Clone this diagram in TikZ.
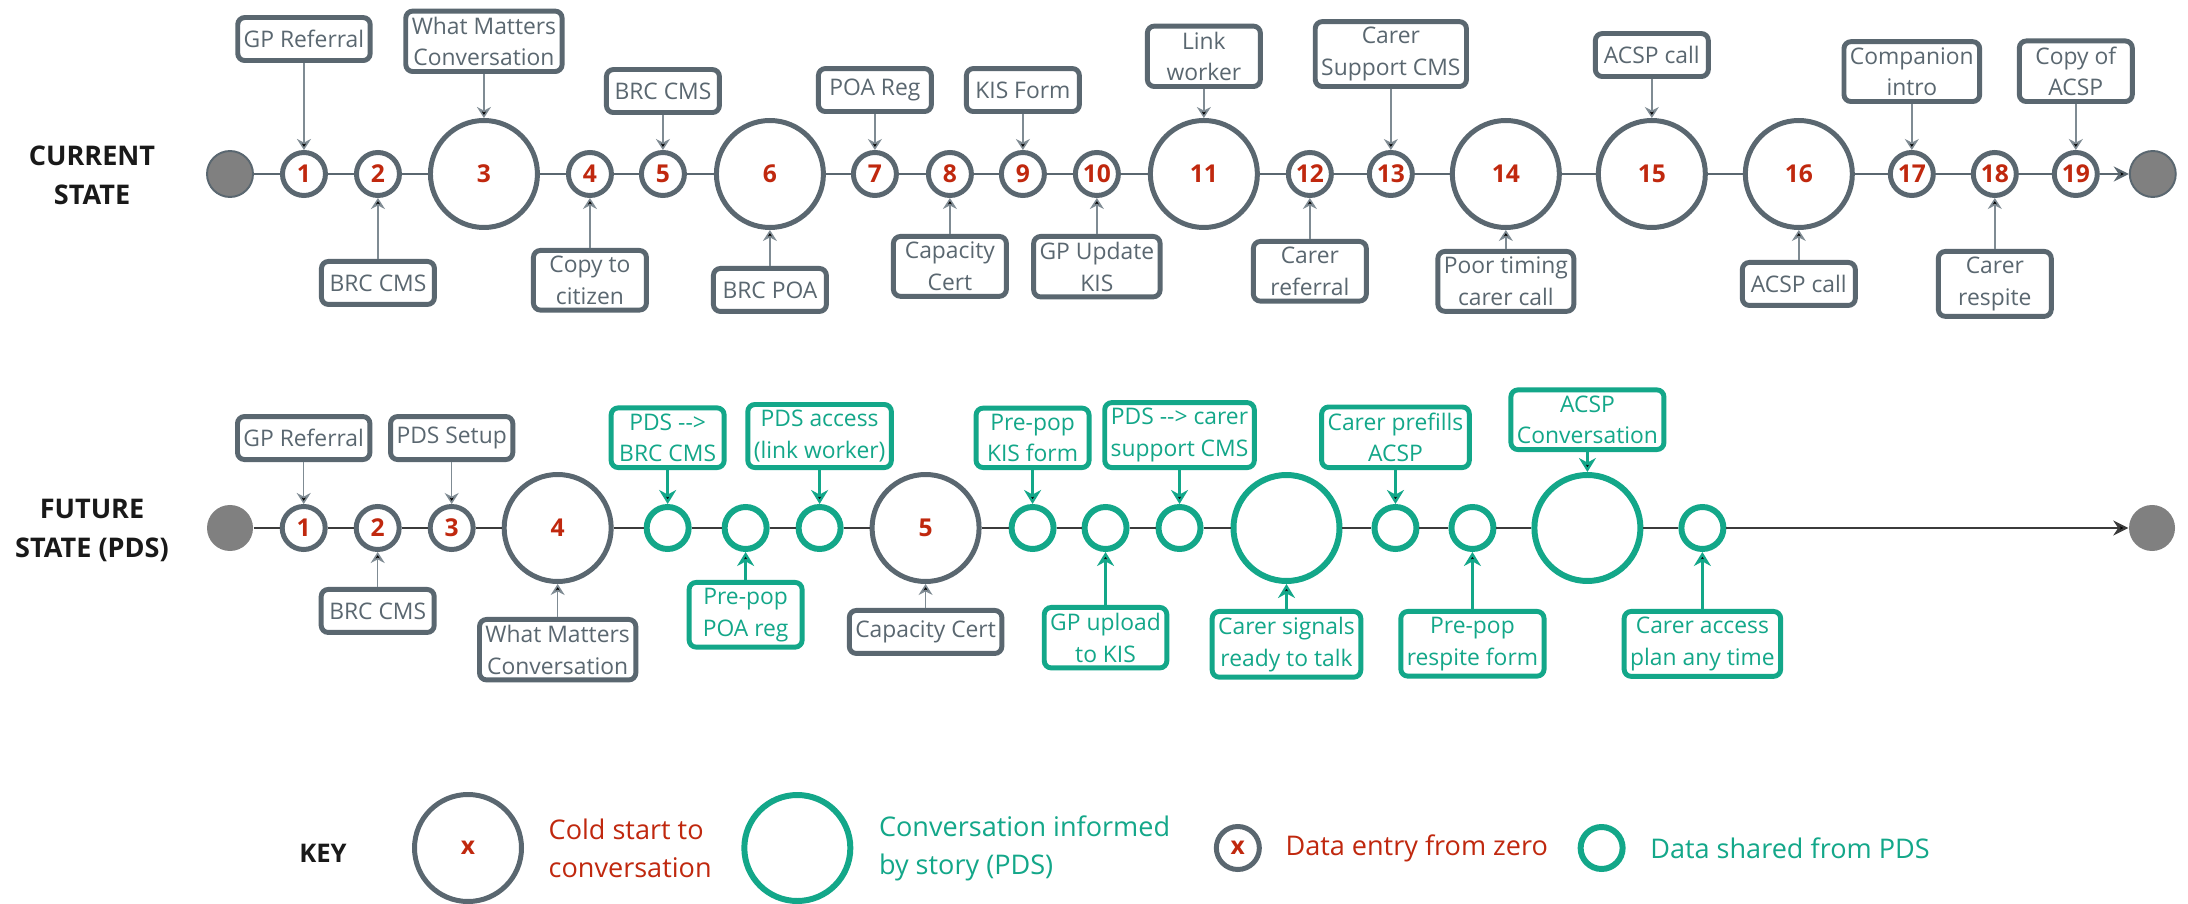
\documentclass[tikz,border=0pt]{standalone}
\usepackage{fontspec}
\setmainfont{Open Sans}
\usetikzlibrary{positioning, arrows.meta}

\definecolor{slategrey}{HTML}{5A6770}
\definecolor{pdsgreen}{HTML}{13A789}
\definecolor{coldred}{HTML}{C0280E}
\definecolor{wiregrey}{HTML}{7F8B93}
\definecolor{dotgrey}{HTML}{808080}
\definecolor{darkline}{HTML}{3B3B3B}

\begin{document}
\begin{tikzpicture}[> = {Stealth[length=1.1mm, width=1.4mm]}, % arrow head style
                node distance = 0.26cm, % gap between circles
                font = \fontsize{6.5}{9}\selectfont % box text
            ]

            \tikzstyle{terminal}=[circle, fill=dotgrey, inner sep=0pt, minimum size=0.46cm]
            \tikzstyle{entry}=[circle, draw=slategrey, line width=1.42pt, inner sep=0pt,
            minimum size=0.43cm, text=coldred, font=\fontsize{7}{8}\selectfont\bfseries]
            \tikzstyle{talk}=[entry, minimum size=1.07cm]
            \tikzstyle{share}=[circle, draw=pdsgreen, line width=1.7pt, inner sep=0pt,
            minimum size=0.42cm]
            \tikzstyle{informed}=[share, minimum size=1.06cm]
            \tikzstyle{note}=[draw=slategrey, text=slategrey, rounded corners=2pt,
            line width=1.4pt, align=center, minimum width=1.13cm, minimum height=0.43cm,
            inner xsep=1.7pt, inner ysep=1.6pt]
            \tikzstyle{pdsnote}=[note, draw=pdsgreen, text=pdsgreen]
            \tikzstyle{feed}=[->, draw=wiregrey, line width=0.45pt]
            \tikzstyle{pdsfeed}=[-{Stealth[length=1.4mm, width=1.7mm]}, draw=pdsgreen,
            line width=0.8pt]
            \tikzstyle{head}=[align=center, text=black!90, font=\fontsize{7.7}{11.1}\selectfont\bfseries]
            \tikzstyle{keytext}=[align=left, inner sep=0pt, font=\fontsize{7.7}{10.8}\selectfont]

            \path[use as bounding box, fill=white] (0,0) rectangle (21.88,-9.04);

            % current state
            \node[head] (hc) at (0.92,-1.75) {CURRENT\\STATE};
            \node[terminal, draw=slategrey, line width=0.55pt] (cs) at (2.30,-1.74) {};
            \node[entry] (c1) [right=of cs] {1}; \node[entry] (c2) [right=of c1] {2};
            \node[talk] (c3) [right=of c2] {3}; \node[entry] (c4) [right=of c3] {4};
            \node[entry] (c5) [right=0.25cm of c4] {5}; \node[talk] (c6) [right=0.27cm of c5] {6};
            \node[entry] (c7) [right=0.25cm of c6] {7}; \node[entry] (c8) [right=0.27cm of c7] {8};
            \node[entry] (c9) [right=0.25cm of c8] {9}; \node[entry] (c10) [right=of c9] {10};
            \node[talk] (c11) [right=0.27cm of c10] {11}; \node[entry] (c12) [right=of c11] {12};
            \node[entry] (c13) [right=0.33cm of c12] {13}; \node[talk] (c14) [right=0.35cm of c13] {14};
            \node[talk] (c15) [right=0.34cm of c14] {15}; \node[talk] (c16) [right=0.35cm of c15] {16};
            \node[entry] (c17) [right=0.33cm of c16] {17}; \node[entry] (c18) [right=0.35cm of c17] {18};
            \node[entry] (c19) [right=0.33cm of c18] {19};
            \node[terminal, draw=slategrey, line width=0.55pt] (ce) [right=0.29cm of c19] {};

            \node[note] (bc1) [above=0.87cm of c1] {GP Referral};
            \node[note] (bc3) [above=0.44cm of c3] {What Matters\\Conversation};
            \node[note] (bc5) [above=0.35cm of c5] {BRC CMS};
            \node[note] (bc7) [above=0.36cm of c7] {POA Reg};
            \node[note] (bc9) [above=0.36cm of c9] {KIS Form};
            \node[note] (bc11) [above=0.29cm of c11] {Link\\worker};
            \node[note] (bc13) [above=0.61cm of c13] {Carer\\Support CMS};
            \node[note] (bc15) [above=0.39cm of c15] {ACSP call};
            \node[note] (bc17) [above=0.46cm of c17] {Companion\\intro};
            \node[note] (bc19) [above=0.46cm of c19] {Copy of\\ACSP};
            \node[note] (bc2) [below=0.61cm of c2] {BRC CMS};
            \node[note] (bc4) [below=0.50cm of c4] {Copy to\\citizen};
            \node[note] (bc6) [below=0.36cm of c6] {BRC POA};
            \node[note] (bc8) [below=0.36cm of c8] {Capacity\\Cert};
            \node[note] (bc10) [below=0.36cm of c10] {GP Update\\KIS};
            \node[note] (bc12) [below=0.41cm of c12] {Carer\\referral};
            \node[note] (bc14) [below=0.19cm of c14] {Poor timing\\carer call};
            \node[note] (bc16) [below=0.30cm of c16] {ACSP call};
            \node[note] (bc18) [below=0.51cm of c18] {Carer\\respite};

            \path[draw=slategrey, line width=0.6pt] (cs) edge (c1) (c1) edge (c2) (c2) edge (c3)
            (c3) edge (c4) (c4) edge (c5) (c5) edge (c6) (c6) edge (c7) (c7) edge (c8)
            (c8) edge (c9) (c9) edge (c10) (c10) edge (c11) (c11) edge (c12) (c12) edge (c13)
            (c13) edge (c14) (c14) edge (c15) (c15) edge (c16) (c16) edge (c17) (c17) edge (c18)
            (c18) edge (c19) (c19) edge[-{Stealth[length=1.5mm, width=1.5mm]}] (ce);

            \path[feed] (bc1) edge (c1) (bc3) edge (c3) (bc5) edge (c5) (bc7) edge (c7)
            (bc9) edge (c9) (bc11) edge (c11) (bc13) edge (c13) (bc15) edge (c15)
            (bc17) edge (c17) (bc19) edge (c19);
            \path[feed] (bc2) edge (c2) (bc4) edge (c4) (bc6) edge (c6) (bc8) edge (c8)
            (bc10) edge (c10) (bc12) edge (c12) (bc14) edge (c14) (bc16) edge (c16)
            (bc18) edge (c18);

            % future state
            \node[head] (hf) at (0.92,-5.30) {FUTURE\\STATE (PDS)};
            \node[terminal] (fs) at (2.30,-5.28) {};
            \node[entry] (f1) [right=of fs] {1}; \node[entry] (f2) [right=of f1] {2};
            \node[entry] (f3) [right=of f2] {3}; \node[talk] (f4) [right=of f3] {4};
            \node[share] (p1) [right=0.30cm of f4] {}; \node[share] (p2) [right=0.30cm of p1] {};
            \node[share] (p3) [right=of p2] {}; \node[talk] (f5) [right=of p3] {5};
            \node[share] (p4) [right=0.27cm of f5] {}; \node[share] (p5) [right=0.25cm of p4] {};
            \node[share] (p6) [right=of p5] {}; \node[informed] (p7) [right=0.27cm of p6] {};
            \node[share] (p8) [right=0.29cm of p7] {}; \node[share] (p9) [right=0.29cm of p8] {};
            \node[informed] (p10) [right=0.35cm of p9] {}; \node[share] (p11) [right=0.35cm of p10] {};
            \node[terminal] (fe) at (21.52,-5.28) {};

            \node[note] (bf1) [above=0.42cm of f1] {GP Referral};
            \node[note] (bf3) [above=0.42cm of f3] {PDS Setup};
            \node[pdsnote] (bp1) [above=0.34cm of p1] {PDS -{}->\\BRC CMS};
            \node[pdsnote] (bp3) [above=0.34cm of p3] {PDS access\\(link worker)};
            \node[pdsnote] (bp4) [above=0.34cm of p4] {Pre-pop\\KIS form};
            \node[pdsnote] (bp6) [above=0.34cm of p6] {PDS -{}-> carer\\support CMS};
            \node[pdsnote] (bp8) [above=0.34cm of p8] {Carer prefills\\ACSP};
            \node[pdsnote] (bp10) [above=0.20cm of p10] {ACSP\\Conversation};
            \node[note] (bf2) [below=0.35cm of f2] {BRC CMS};
            \node[note] (bf4) [below=0.33cm of f4] {What Matters\\Conversation};
            \node[pdsnote] (bp2) [below=0.28cm of p2] {Pre-pop\\POA reg};
            \node[note] (bf5) [below=0.24cm of f5] {Capacity Cert};
            \node[pdsnote] (bp5) [below=0.53cm of p5] {GP upload\\to KIS};
            \node[pdsnote] (bp7) [below=0.25cm of p7] {Carer signals\\ready to talk};
            \node[pdsnote] (bp9) [below=0.57cm of p9] {Pre-pop\\respite form};
            \node[pdsnote] (bp11) [below=0.57cm of p11] {Carer access\\plan any time};

            \path[draw=darkline, line width=0.6pt] (fs) edge (f1) (f1) edge (f2) (f2) edge (f3)
            (f3) edge (f4) (f4) edge (p1) (p1) edge (p2) (p2) edge (p3) (p3) edge (f5)
            (f5) edge (p4) (p4) edge (p5) (p5) edge (p6) (p6) edge (p7) (p7) edge (p8)
            (p8) edge (p9) (p9) edge (p10) (p10) edge (p11)
            (p11) edge[-{Stealth[length=1.5mm, width=1.5mm]}] (fe);

            \path[feed] (bf1) edge (f1) (bf3) edge (f3) (bf2) edge (f2) (bf4) edge (f4)
            (bf5) edge (f5);
            \path[pdsfeed] (bp1) edge (p1) (bp3) edge (p3) (bp4) edge (p4) (bp6) edge (p6)
            (bp8) edge (p8) (bp10) edge (p10) (bp2) edge (p2) (bp5) edge (p5)
            (bp7) edge (p7) (bp9) edge (p9) (bp11) edge (p11);

            % key
            \node[head, font=\fontsize{7.3}{9}\selectfont\bfseries] (key) at (3.23,-8.53) {KEY};
            \node[talk] (k1) at (4.68,-8.48) {x};
            \node[keytext, text=coldred] (t1) [right=0.24cm of k1] {Cold start to\\conversation};
            \node[informed] (k2) [right=0.29cm of t1] {};
            \node[keytext, text=pdsgreen] (t2) [right=0.25cm of k2] {Conversation informed\\by story (PDS)};
            \node[entry] (k3) [right=0.43cm of t2] {x};
            \node[keytext, text=coldred] (t3) [right=0.23cm of k3] {Data entry from zero};
            \node[share] (k4) [right=0.29cm of t3] {};
            \node[keytext, text=pdsgreen] (t4) [right=0.24cm of k4] {Data shared from PDS};
        \end{tikzpicture}
\end{document}
